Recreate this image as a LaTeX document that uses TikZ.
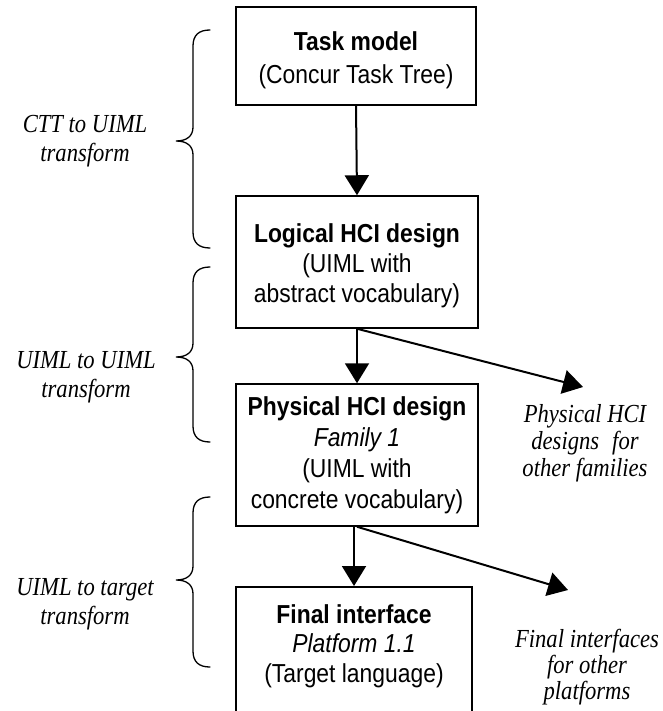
\documentclass[tikz,border=0pt]{standalone}
\usepackage{fontspec}
\usetikzlibrary{arrows.meta}
\newfontfamily\boxfont[FakeStretch=0.88]{Liberation Sans}
\newfontfamily\labfont[FakeStretch=0.87]{Liberation Serif}

% curly brace opening to the right: top y, tip y, bottom y
\newcommand\sidebrace[3]{%
  \draw[bracestyle] (210,#1) .. controls (199,#1) and (193,#1+5) .. (193,#1+16)
    -- (193,#2-14) .. controls (193,#2-5) and (187,#2) .. (176,#2)
    .. controls (187,#2) and (193,#2+5) .. (193,#2+14)
    -- (193,#3-16) .. controls (193,#3-5) and (199,#3) .. (210,#3);}

\tikzset{
  stage/.style={draw, line width=1.5pt, inner sep=0pt, align=center,
    font=\boxfont\fontsize{26}{31}\selectfont},
  stagetext/.style={align=center, inner sep=0pt, anchor=north},
  flow/.style={line width=2pt, -{Triangle[length=20pt,width=24pt]}},
  sidelabel/.style={align=center, inner sep=0pt, anchor=north,
    font=\labfont\itshape\fontsize{26}{29}\selectfont},
  bracestyle/.style={line width=1.3pt, line cap=round},
}

\begin{document}
\begin{tikzpicture}[x=1pt, y=-1pt]
\useasboundingbox (0,0) rectangle (662,711);

% stages of the transformation chain
\node[stage, minimum width=240pt, minimum height=98pt] (task) at (356,56) {};
\node[stagetext, font=\boxfont\fontsize{26}{33}\selectfont] (tasktext) at (task.center |- 0,31)
  {\textbf{Task model}\\(Concur Task Tree)};
\node[stage, minimum width=242pt, minimum height=132pt] (logical) at (357,262) {};
\node[stagetext, font=\boxfont\fontsize{26}{30}\selectfont] (logicaltext) at (logical.center |- 0,223)
  {\textbf{Logical HCI design}\\(UIML with\\abstract vocabulary)};
\node[stage, minimum width=242pt, minimum height=142pt] (physical) at (357,455)
  {\textbf{Physical HCI design}\\\textit{Family 1}\\(UIML with\\concrete vocabulary)};
\node[stage, minimum width=236pt, minimum height=128pt, anchor=north] (final) at (354,586) {};
\node[stagetext, font=\boxfont\fontsize{26}{29.5}\selectfont]
  (finaltext) at (354,604) {\textbf{Final interface}\\\textit{Platform 1.1}\\(Target language)};

% arrows between stages
\draw[flow] (task.south) -- (logical.north);
\draw[flow] (logical.south) -- (physical.north);
\draw[flow] (physical.south -| final.north) -- (final.north);

% branches to other families / platforms
\coordinate (famtip) at (583,387);
\coordinate (plattip) at (568,590);
\draw[flow] (logical.south) -- (famtip);
\draw[flow] (physical.south) -- (plattip);
\node[sidelabel, font=\labfont\itshape\fontsize{26}{27}\selectfont]
  (otherfam) at (585,404) {Physical HCI\\designs\enspace for\\other families};
\node[sidelabel, font=\labfont\itshape\fontsize{26}{26}\selectfont]
  (otherplat) at (587,629) {Final interfaces\\for other\\platforms};

% transformation steps on the left
\sidebrace{30}{141}{248}
\sidebrace{267}{357}{442}
\sidebrace{497}{580}{667}
\node[sidelabel] (ctt) at (85,115) {CTT to UIML\\transform};
\node[sidelabel] (u2u) at (86,351) {UIML to UIML\\transform};
\node[sidelabel] (u2t) at (85,578) {UIML to target\\transform};
\end{tikzpicture}
\end{document}
